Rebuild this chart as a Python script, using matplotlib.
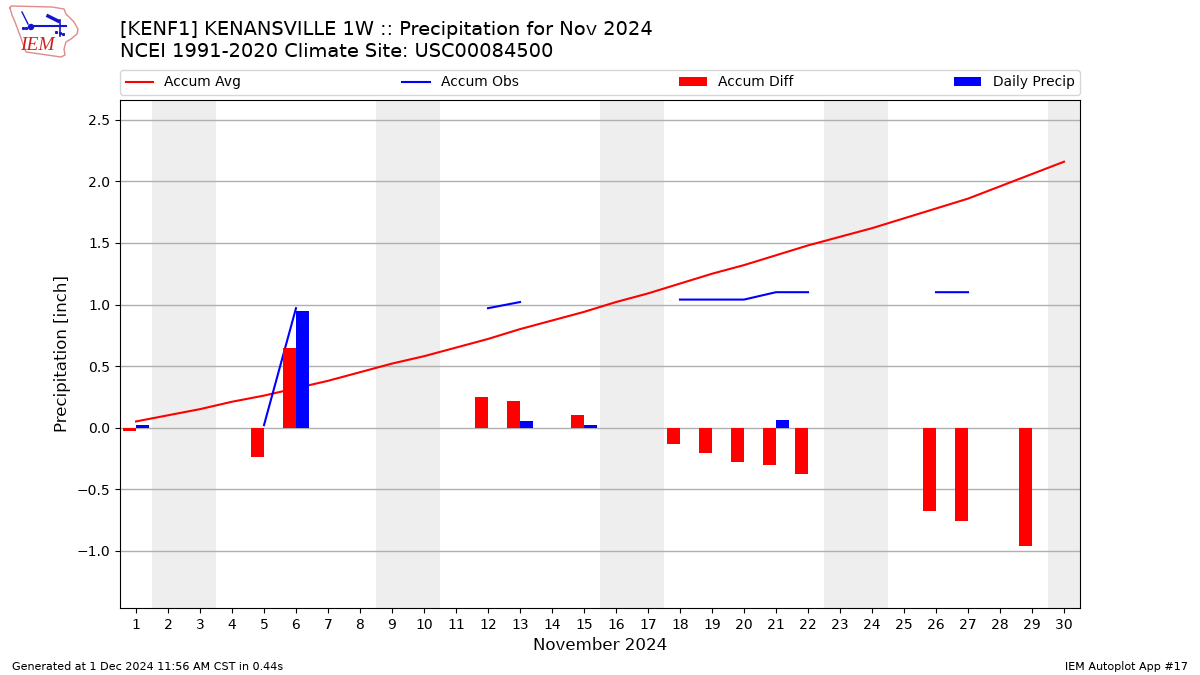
#!/usr/bin/env python3
import numpy as np
import matplotlib
matplotlib.use('Agg')
import matplotlib.pyplot as plt
from matplotlib.lines import Line2D
from matplotlib.patches import Circle

plt.rcParams['text.hinting'] = 'default'

days = list(range(1, 31))
accum_avg = [0.05, 0.10, 0.15, 0.21, 0.26, 0.32, 0.38, 0.45, 0.52, 0.58,
             0.65, 0.72, 0.80, 0.87, 0.94, 1.02, 1.09, 1.17, 1.25, 1.32,
             1.40, 1.48, 1.55, 1.62, 1.70, 1.78, 1.86, 1.96, 2.06, 2.16]
nan = float('nan')
accum_obs = [nan, nan, nan, nan, 0.02, 0.97, nan, nan, nan, nan,
             nan, 0.97, 1.02, nan, nan, nan, nan, 1.04, 1.04, 1.04,
             1.10, 1.10, nan, nan, nan, 1.10, 1.10, nan, nan, nan]
accum_diff = [-0.025, 0, 0, 0, -0.235, 0.65, 0, 0, 0, 0,
              0, 0.25, 0.22, 0, 0.105, 0, 0, -0.13, -0.205, -0.28,
              -0.30, -0.375, 0, 0, 0, -0.675, -0.76, 0, -0.96, 0]
daily_precip = [0.025, 0, 0, 0, 0, 0.95, 0, 0, 0, 0,
                0, 0, 0.055, 0, 0.025, 0, 0, 0, 0, 0,
                0.065, 0, 0, 0, 0, 0, 0, 0, 0, 0]
weekends = [(1.5, 3.5), (8.5, 10.5), (15.5, 17.5), (22.5, 24.5), (29.5, 31.5)]

fig = plt.figure(figsize=(12, 6.75), dpi=100)
ax = fig.add_axes([120/1200, 1-608/675, 960/1200, 508/675])

for a, b in weekends:
    ax.axvspan(a, b, color='#EEEEEE', lw=0, zorder=0)

x = np.array(days)
ax.plot(x, accum_avg, color='r', lw=1.5, label='Accum Avg', zorder=2)
ax.plot(x, accum_obs, color='b', lw=1.5, label='Accum Obs', zorder=2)
ax.bar(x-0.2, accum_diff, width=0.4, color='r', label='Accum Diff', zorder=3)
ax.bar(x+0.2, daily_precip, width=0.4, color='b', label='Daily Precip', zorder=3)

ax.set_xlim(0.5, 30.5)
ax.set_ylim(-1.4655, 2.6613)
ax.set_xticks(days)
ax.set_yticks([-1.0, -0.5, 0.0, 0.5, 1.0, 1.5, 2.0, 2.5])
ax.yaxis.grid(True, color='#b0b0b0', lw=1.0, zorder=1)
ax.set_axisbelow(True)
ax.set_xlabel('November 2024', fontsize=12)
ax.set_ylabel('Precipitation [inch]', fontsize=12)

ax.legend(loc='lower left', bbox_to_anchor=(0, 1.0098, 1, 0.05), mode='expand',
          ncol=4, borderaxespad=0, fontsize=10)

fig.text(120/1200, 1-35/675, '[KENF1] KENANSVILLE 1W :: Precipitation for Nov 2024', fontsize=13.97)
fig.text(120/1200, 1-57/675, 'NCEI 1991-2020 Climate Site: USC00084500', fontsize=13.97)
fig.text(12/1200, 1-670/675, 'Generated at 1 Dec 2024 11:56 AM CST in 0.44s', fontsize=8)
fig.text(1188/1200, 1-670/675, 'IEM Autoplot App #17', fontsize=8, ha='right')

# logo, rough copy of the state outline and the little station map, in pixels
logo = fig.add_axes([0, 1-65/675, 110/1200, 65/675])
logo.set_xlim(0, 110)
logo.set_ylim(65, 0)
logo.axis('off')
outline_x = [10, 11, 52, 64, 66, 70, 74, 78, 77, 71, 66, 64, 65, 61, 26, 24, 21, 18, 15, 12, 10]
outline_y = [8, 6, 7, 9, 14, 18, 22, 29, 34, 39, 42, 49, 55, 57, 52, 47, 38, 30, 22, 15, 8]
logo.plot(outline_x, outline_y, color='#e08a8a', lw=1.0)
logo.add_line(Line2D([31, 66], [26, 26], color='#1515cc', lw=1.5))
logo.add_line(Line2D([60, 60], [20, 36], color='#1515cc', lw=1.2))
logo.add_line(Line2D([48, 58], [16, 21], color='#1515cc', lw=2.5))
logo.add_line(Line2D([22, 28], [12, 24], color='#1515cc', lw=1.0))
logo.add_patch(Circle((31, 27), 2.5, color='#1515cc'))
logo.plot([23, 26, 56, 60, 63], [28, 28, 32, 33, 34], 's', color='#1515cc', ms=1.2)
logo.text(37.5, 45, 'IEM', color='#cc2222', fontsize=14, family='Liberation Serif',
          style='italic', ha='center', va='center')

fig.savefig('out.png', dpi=100)
